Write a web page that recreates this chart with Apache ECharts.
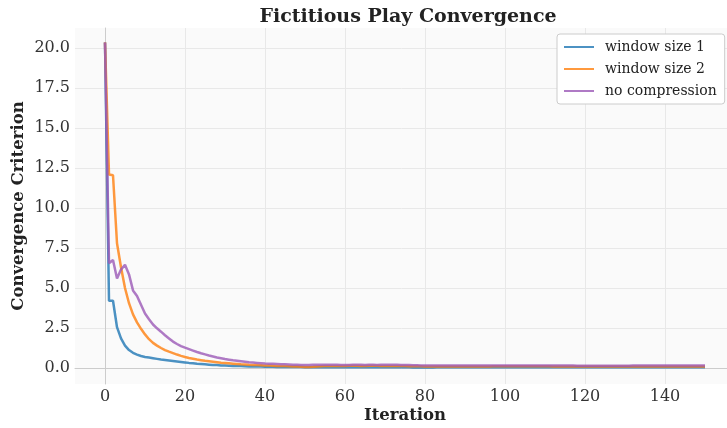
<!DOCTYPE html>
<html>
<head>
<meta charset="utf-8">
<script src="https://cdn.jsdelivr.net/npm/echarts@6/dist/echarts.min.js"></script>
<style>
html,body{margin:0;padding:0;background:#ffffff;}
#chart{width:727px;height:428px;}
</style>
</head>
<body>
<div id="chart"></div>
<script>
const seriesNames = ['window size 1', 'window size 2', 'no compression'];
const xTicks = [0, 20, 40, 60, 80, 100, 120, 140];
const yTicks = [0, 2.5, 5, 7.5, 10, 12.5, 15, 17.5, 20];

const windowSize1 = [
20.35, 4.2, 4.2, 2.55, 1.85, 1.4, 1.12, 0.95, 0.84, 0.75,
0.69, 0.65, 0.61, 0.57, 0.53, 0.5, 0.47, 0.44, 0.41, 0.38,
0.35, 0.32, 0.3, 0.27, 0.25, 0.23, 0.21, 0.19, 0.18, 0.16,
0.15, 0.14, 0.13, 0.12, 0.12, 0.11, 0.1, 0.1, 0.09, 0.09,
0.08, 0.08, 0.08, 0.07, 0.07, 0.07, 0.06, 0.06, 0.06, 0.06,
0.05, 0.05, 0.05, 0.05, 0.05, 0.05, 0.05, 0.04, 0.05, 0.05,
0.05, 0.05, 0.05, 0.04, 0.04, 0.05, 0.05, 0.05, 0.04, 0.04,
0.04, 0.04, 0.05, 0.04, 0.04, 0.04, 0.04, 0.03, 0.03, 0.03,
0.03, 0.03, 0.03, 0.04, 0.04, 0.04, 0.04, 0.04, 0.04, 0.04,
0.04, 0.04, 0.04, 0.04, 0.05, 0.05, 0.05, 0.05, 0.05, 0.05,
0.05, 0.05, 0.05, 0.05, 0.05, 0.05, 0.05, 0.05, 0.05, 0.05,
0.05, 0.05, 0.05, 0.05, 0.04, 0.04, 0.04, 0.04, 0.04, 0.04,
0.04, 0.04, 0.04, 0.04, 0.04, 0.04, 0.04, 0.04, 0.04, 0.04,
0.04, 0.05, 0.05, 0.05, 0.05, 0.05, 0.05, 0.05, 0.05, 0.05,
0.05, 0.05, 0.05, 0.05, 0.05, 0.05, 0.05, 0.05, 0.05, 0.05,
0.05
];

const windowSize2 = [
20.35, 12.1, 12.05, 7.8, 6.3, 5.0, 4.05, 3.35, 2.85, 2.45,
2.1, 1.8, 1.57, 1.4, 1.25, 1.12, 1.02, 0.93, 0.84, 0.76,
0.69, 0.63, 0.58, 0.53, 0.49, 0.45, 0.42, 0.39, 0.36, 0.33,
0.31, 0.29, 0.27, 0.25, 0.23, 0.22, 0.2, 0.19, 0.18, 0.17,
0.16, 0.15, 0.14, 0.13, 0.13, 0.12, 0.11, 0.1, 0.09, 0.08,
0.07, 0.07, 0.08, 0.1, 0.11, 0.12, 0.12, 0.13, 0.13, 0.13,
0.13, 0.14, 0.14, 0.14, 0.13, 0.13, 0.14, 0.14, 0.14, 0.13,
0.13, 0.13, 0.12, 0.12, 0.12, 0.12, 0.11, 0.11, 0.11, 0.11,
0.1, 0.1, 0.1, 0.1, 0.1, 0.1, 0.1, 0.1, 0.1, 0.1,
0.1, 0.1, 0.1, 0.1, 0.1, 0.1, 0.1, 0.11, 0.11, 0.11,
0.11, 0.11, 0.11, 0.11, 0.11, 0.11, 0.11, 0.11, 0.11, 0.11,
0.11, 0.11, 0.1, 0.1, 0.1, 0.1, 0.1, 0.1, 0.1, 0.1,
0.1, 0.1, 0.1, 0.1, 0.1, 0.1, 0.1, 0.1, 0.1, 0.1,
0.1, 0.1, 0.1, 0.1, 0.1, 0.1, 0.1, 0.1, 0.1, 0.1,
0.1, 0.1, 0.1, 0.1, 0.1, 0.1, 0.1, 0.1, 0.1, 0.1,
0.1
];

const noCompression = [
20.35, 6.55, 6.75, 5.6, 6.15, 6.45, 5.85, 4.85, 4.5, 3.95,
3.4, 3.05, 2.72, 2.48, 2.27, 2.05, 1.85, 1.65, 1.5, 1.37,
1.27, 1.18, 1.09, 1.0, 0.92, 0.85, 0.78, 0.72, 0.66, 0.61,
0.56, 0.52, 0.48, 0.45, 0.42, 0.39, 0.36, 0.34, 0.32, 0.3,
0.28, 0.27, 0.26, 0.25, 0.24, 0.23, 0.22, 0.21, 0.2, 0.19,
0.18, 0.18, 0.2, 0.21, 0.21, 0.2, 0.2, 0.21, 0.2, 0.19,
0.18, 0.19, 0.2, 0.21, 0.2, 0.19, 0.2, 0.2, 0.19, 0.2,
0.21, 0.21, 0.2, 0.2, 0.19, 0.18, 0.18, 0.17, 0.17, 0.16,
0.16, 0.16, 0.16, 0.15, 0.15, 0.15, 0.15, 0.15, 0.15, 0.15,
0.15, 0.15, 0.15, 0.15, 0.15, 0.15, 0.15, 0.15, 0.15, 0.15,
0.15, 0.15, 0.15, 0.16, 0.16, 0.16, 0.16, 0.16, 0.16, 0.16,
0.15, 0.15, 0.15, 0.15, 0.15, 0.15, 0.15, 0.15, 0.14, 0.14,
0.14, 0.14, 0.14, 0.14, 0.14, 0.14, 0.14, 0.14, 0.14, 0.14,
0.14, 0.14, 0.15, 0.15, 0.15, 0.15, 0.15, 0.15, 0.15, 0.15,
0.15, 0.15, 0.15, 0.15, 0.15, 0.15, 0.15, 0.15, 0.15, 0.15,
0.15
];

const allSeries = [windowSize1, windowSize2, noCompression];
const colors = ['#1f77b4', '#ff7f0e', '#9b59b6'];
const FONT = 'DejaVu Serif';

const chart = echarts.init(document.getElementById('chart'), null, {renderer: 'canvas'});
chart.setOption({
  backgroundColor: '#ffffff',
  animation: false,
  title: {
    text: 'Fictitious Play Convergence',
    left: 403, top: 3, textAlign: 'center',
    textStyle: {fontFamily: FONT, fontWeight: 'bold', fontSize: 19, color: '#222'}
  },
  legend: {
    data: seriesNames,
    orient: 'vertical',
    left: 557, top: 34,
    padding: [6, 8, 6, 6],
    itemWidth: 30, itemHeight: 14, itemGap: 8,
    itemStyle: {opacity: 0},
    backgroundColor: '#ffffff',
    borderColor: '#cccccc', borderWidth: 1, borderRadius: 3,
    textStyle: {fontFamily: FONT, fontSize: 14, color: '#222', padding: [0, 0, 0, 6]}
  },
  grid: {
    left: 75, top: 28, width: 660, height: 356,
    outerBoundsMode: 'none', containLabel: false,
    show: true, backgroundColor: '#fafafa', borderWidth: 0
  },
  xAxis: {
    type: 'value', min: -7.5, max: 157.5,
    name: 'Iteration', nameLocation: 'middle', nameGap: 23, nameMoveOverlap: false,
    nameTextStyle: {fontFamily: FONT, fontWeight: 'bold', fontSize: 16.5, color: '#222'},
    axisLine: {show: true, lineStyle: {color: '#cccccc', width: 1}},
    axisTick: {show: false, customValues: xTicks},
    axisLabel: {customValues: xTicks, fontFamily: FONT, fontSize: 16, color: '#333', margin: 5},
    splitLine: {show: true, lineStyle: {color: '#e8e8e8', width: 1}}
  },
  yAxis: {
    type: 'value', min: -1, max: 21.25,
    name: 'Convergence Criterion', nameLocation: 'middle', nameGap: 48, nameMoveOverlap: false,
    nameTextStyle: {fontFamily: FONT, fontWeight: 'bold', fontSize: 16.5, color: '#222'},
    axisLine: {show: true, lineStyle: {color: '#cccccc', width: 1}},
    axisTick: {show: false, customValues: yTicks},
    axisLabel: {customValues: yTicks, fontFamily: FONT, fontSize: 16, color: '#333', margin: 5,
      formatter: v => v.toFixed(1)},
    splitLine: {show: true, lineStyle: {color: '#e8e8e8', width: 1}}
  },
  series: allSeries.map((arr, k) => ({
    name: seriesNames[k],
    type: 'line',
    data: arr.map((v, i) => [i, v]),
    symbol: 'none',
    color: colors[k],
    lineStyle: {width: 2.5, color: colors[k], opacity: 0.8},
    z: 2 + k
  }))
});
</script>
</body>
</html>
